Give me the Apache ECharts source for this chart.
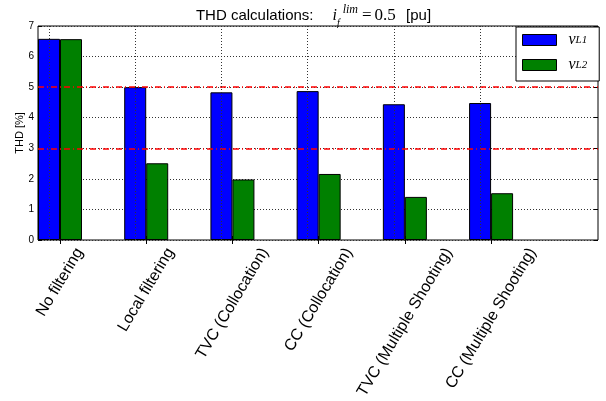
<!DOCTYPE html>
<html><head><meta charset="utf-8">
<script src="https://cdn.jsdelivr.net/npm/echarts@6/dist/echarts.min.js"></script>
<style>html,body{margin:0;padding:0;background:#fff}#c{width:606px;height:401px}</style>
</head><body><div id="c"></div>
<script>
const categories = ['No filtering', 'Local filtering', 'TVC (Collocation)', 'CC (Collocation)', 'TVC (Multiple Shooting)', 'CC (Multiple Shooting)'];
const vL1 = [6.58, 5.00, 4.83, 4.87, 4.44, 4.48];
const vL2 = [6.57, 2.51, 1.98, 2.16, 1.41, 1.53];
const yTicks = [0, 1, 2, 3, 4, 5, 6, 7];
const refLines = [3, 5];
const seriesNames = ['vL1', 'vL2'];
const positions = categories.map((_, i) => i + 1);

const chart = echarts.init(document.getElementById('c'), null, {renderer: 'canvas'});
const ANG = 59, rad = ANG * Math.PI / 180, cs = Math.cos(rad), sn = Math.sin(rad);
const LF = 16, LH = 17;
const ctx = document.createElement('canvas').getContext('2d');
ctx.font = LF + 'px "Liberation Sans"';
const labelRich = {};
categories.forEach((c, i) => {
  const L = ctx.measureText(c).width;
  const H = L * sn + LH * cs;
  const y = 5 + H / 2;
  labelRich['p' + i] = {fontFamily: 'Liberation Sans', fontSize: LF, lineHeight: LH, color: '#000',
    padding: [2 * y * cs, 2 * y * sn, 0, 0]};
});

const xMin = 0.745, xMax = 7.24;
// label slots: empty guard labels at both axis ends, real labels at category positions
const labelValues = [xMin].concat(positions, [xMax]);

const serif = 'Liberation Serif';
const sans = 'Liberation Sans';
const title = {
  text: '{t0|THD calculations:}{i|i}{sub|f}{sup|lim}{m|=}{m2|0.5}{t| [pu]}',
  left: 'center', top: 0, padding: [4, 0, 0, 0],
  textStyle: {
    fontWeight: 'normal',
    rich: {
      t0: {fontFamily: sans, fontSize: 15, fontWeight: 'normal', lineHeight: 24, color: '#000', padding: [0, 0, 0, 21]},
      t: {fontFamily: sans, fontSize: 15, fontWeight: 'normal', lineHeight: 24, color: '#000', padding: [0, 0, 0, 6]},
      i: {fontFamily: serif, fontStyle: 'italic', fontWeight: 'normal', fontSize: 16, lineHeight: 24, color: '#000', padding: [0, 0, 0, 19]},
      sub: {fontFamily: serif, fontStyle: 'italic', fontWeight: 'normal', fontSize: 10, lineHeight: 18, verticalAlign: 'bottom', color: '#000'},
      sup: {fontFamily: serif, fontStyle: 'italic', fontWeight: 'normal', fontSize: 12, lineHeight: 5, verticalAlign: 'top', color: '#000', padding: [0, 0, 0, 3]},
      m: {fontFamily: serif, fontWeight: 'normal', fontSize: 17, lineHeight: 24, color: '#000', padding: [0, 0, 0, 4]},
      m2: {fontFamily: serif, fontWeight: 'normal', fontSize: 17, lineHeight: 24, color: '#000', padding: [0, 0, 0, 3]}
    }
  }
};

const commonX = {type: 'value', min: xMin, max: xMax, axisLine: {show: false}, splitLine: {show: false}};

const option = {
  animation: false,
  backgroundColor: '#fff',
  title: title,
  legend: {
    data: seriesNames, orient: 'vertical', left: 516, top: 27,
    itemWidth: 34, itemHeight: 11, itemGap: 9, padding: [5, 12, 8, 6],
    borderColor: '#000', borderWidth: 1, backgroundColor: '#fff', icon: 'rect',
    itemStyle: {borderColor: '#000', borderWidth: 1},
    formatter: function (name) { return '{v|v}{s|' + name.slice(1) + '}'; },
    textStyle: {padding: [0, 0, 0, 7], rich: {
      v: {fontFamily: serif, fontStyle: 'italic', fontSize: 16, lineHeight: 11, color: '#000'},
      s: {fontFamily: serif, fontStyle: 'italic', fontSize: 11, lineHeight: 6, verticalAlign: 'bottom', color: '#000'}
    }}
  },
  grid: {left: 38, right: 8, top: 26, bottom: 161, show: true, borderColor: '#000', borderWidth: 1,
    backgroundColor: 'transparent', containLabel: false, outerBoundsMode: 'none'},
  xAxis: [
    Object.assign({}, commonX, {
      position: 'bottom',
      axisTick: {show: true, inside: true, length: 4, customValues: positions, lineStyle: {color: '#000'}},
      axisLabel: {show: true, customValues: labelValues, rotate: ANG, align: 'center', verticalAlign: 'middle', margin: 0,
        hideOverlap: false,
        formatter: function (val) {
          const i = positions.indexOf(val);
          return i < 0 ? '' : '{p' + i + '|' + categories[i] + '}';
        },
        rich: labelRich}
    }),
    Object.assign({}, commonX, {
      position: 'top',
      axisTick: {show: true, inside: true, length: 4, customValues: positions, lineStyle: {color: '#000'}},
      axisLabel: {show: false}
    })
  ],
  yAxis: [
    {type: 'value', min: yTicks[0], max: yTicks[yTicks.length - 1], interval: 1, position: 'left',
      axisLine: {show: false},
      axisTick: {show: true, inside: true, length: 4, lineStyle: {color: '#000'}},
      axisLabel: {fontFamily: sans, fontSize: 10, color: '#000', margin: 4},
      splitLine: {show: true, lineStyle: {color: '#333', type: [1, 2], width: 1}},
      name: 'THD [%]', nameLocation: 'middle', nameGap: 13, nameMoveOverlap: false,
      nameTextStyle: {fontFamily: sans, fontSize: 11, color: '#000'}},
    {type: 'value', min: yTicks[0], max: yTicks[yTicks.length - 1], interval: 1, position: 'right',
      axisLine: {show: false},
      axisTick: {show: true, inside: true, length: 4, lineStyle: {color: '#000'}},
      axisLabel: {show: false}, splitLine: {show: false}}
  ],
  series: [
    {name: seriesNames[0], type: 'bar', xAxisIndex: 0, yAxisIndex: 0,
      data: positions.map((p, i) => [p, vL1[i]]), barWidth: 22, barGap: '0%',
      itemStyle: {color: '#0000ff', borderColor: '#000', borderWidth: 1},
      markLine: {silent: true, symbol: 'none', label: {show: false}, animation: false,
        data: refLines.map(v => ({yAxis: v, lineStyle: {color: '#ff0000', type: [6, 3, 1, 3], width: 1.5}}))
          .concat(positions.map(p => ({xAxis: p, lineStyle: {color: '#333', type: [1, 2], width: 1}})))}},
    {name: seriesNames[1], type: 'bar', xAxisIndex: 0, yAxisIndex: 0,
      data: positions.map((p, i) => [p, vL2[i]]), barWidth: 22, barGap: '0%',
      itemStyle: {color: '#008000', borderColor: '#000', borderWidth: 1}}
  ]
};
chart.setOption(option);
</script>
</body></html>
